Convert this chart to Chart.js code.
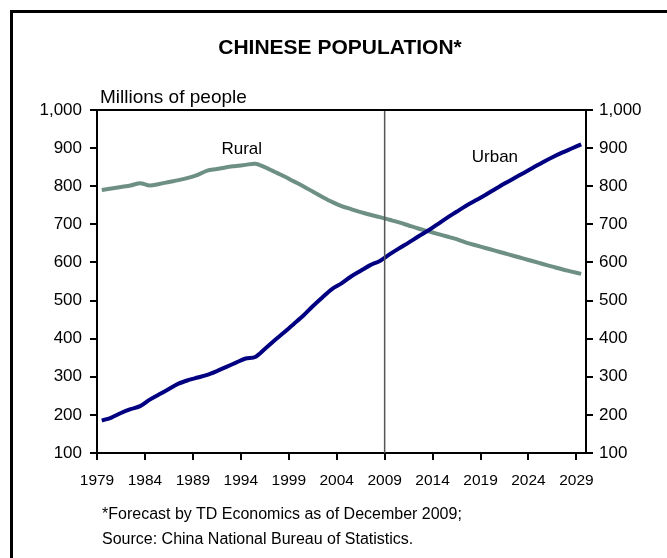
<!DOCTYPE html>
<html>
<head>
<meta charset="utf-8">
<title>Chinese Population</title>
<script src="https://cdn.jsdelivr.net/npm/chart.js@4.4.1/dist/chart.umd.min.js"></script>
<style>
  html, body { margin: 0; padding: 0; background: #fff; overflow: hidden; }
  body { width: 667px; height: 558px; position: relative; font-family: "Liberation Sans", Arial, sans-serif; color: #000; }
  #frame { position: absolute; left: 10px; top: 10px; width: 720px; height: 620px; border-left: 3px solid #000; border-top: 3px solid #000; pointer-events: none; }
  #wrap { position: absolute; left: 0; top: 0; width: 667px; height: 558px; }
  .title { position: absolute; top: 35px; left: 0; width: 680px; text-align: center; font-weight: bold; font-size: 21px; }
  .unit { position: absolute; left: 100px; top: 86px; font-size: 19px; }
  .note { position: absolute; left: 102px; top: 501px; font-size: 16px; line-height: 25px; }
</style>
</head>
<body>
<div id="wrap"><canvas id="popChart"></canvas></div>
<div class="title">CHINESE POPULATION*</div>
<div class="unit">Millions of people</div>
<div class="note">*Forecast by TD Economics as of December 2009;<br>Source: China National Bureau of Statistics.</div>
<div id="frame"></div>
<script>
// millions of people (forecast from 2009)
const years = [
  1979, 1980, 1981, 1982, 1983, 1984, 1985, 1986, 1987, 1988,
  1989, 1990, 1991, 1992, 1993, 1994, 1995, 1996, 1997, 1998,
  1999, 2000, 2001, 2002, 2003, 2004, 2005, 2006, 2007, 2008,
  2009, 2010, 2011, 2012, 2013, 2014, 2015, 2016, 2017, 2018,
  2019, 2020, 2021, 2022, 2023, 2024, 2025, 2026, 2027, 2028,
  2029
];
const urban = [
  185, 193, 205, 215, 223, 240, 254, 268, 282, 291,
  298, 305, 315, 326, 337, 348, 352, 373, 395, 416,
  438, 460, 485, 508, 530, 545, 563, 578, 593, 604,
  621, 637, 652, 668, 683, 700, 717, 733, 749, 763,
  777, 792, 807, 821, 835, 849, 863, 876, 888, 899,
  910
];
const rural = [
  790, 794, 798, 802, 808, 802, 806, 811, 816, 822,
  830, 841, 845, 850, 853, 856, 859, 850, 838, 826,
  813, 800, 786, 772, 759, 748, 740, 732, 725, 719,
  712, 705, 697, 689, 682, 675, 668, 661, 652, 645,
  638, 631, 624, 617, 610, 603, 596, 589, 582, 576,
  570
];
const xTickYears = [1979, 1984, 1989, 1994, 1999, 2004, 2009, 2014, 2019, 2024, 2029];
const yTicks = [100, 200, 300, 400, 500, 600, 700, 800, 900, 1000];
const forecastYear = 2009;

// where the series names sit (year, value)
const seriesLabels = [
  { text: "Rural", year: 1993.6, value: 897 },
  { text: "Urban", year: 2020, value: 876 }
];

const FONT = '"Liberation Sans", Arial, sans-serif';
Chart.defaults.font.family = FONT;
Chart.defaults.color = "#000";

function points(vals) {
  return years.map((yr, i) => ({ x: yr, y: vals[i] }));
}

// Excel-style category axis: ticks sit between the yearly points
function setXTicks(scale) {
  scale.ticks = xTickYears.map((yr) => ({ value: yr - 0.5 }));
}
function setYTicks(scale) {
  scale.ticks = yTicks.map((v) => ({ value: v }));
}

const overlay = {
  id: "overlay",
  afterDatasetsDraw(chart) {
    const { ctx, chartArea: a, scales } = chart;
    ctx.save();
    ctx.strokeStyle = "#000";
    ctx.lineWidth = 2;
    ctx.beginPath();
    ctx.moveTo(a.left - 1, a.top);
    ctx.lineTo(a.right + 1, a.top);
    ctx.stroke();

    ctx.font = "17px " + FONT;
    ctx.fillStyle = "#000";
    ctx.textAlign = "center";
    ctx.textBaseline = "middle";
    seriesLabels.forEach((l) => {
      ctx.fillText(l.text, scales.x.getPixelForValue(l.year), scales.y.getPixelForValue(l.value));
    });
    ctx.restore();
  }
};

const yAxisBase = {
  type: "linear",
  min: 100,
  max: 1000,
  afterBuildTicks: setYTicks,
  grid: { drawOnChartArea: false, drawTicks: true, tickLength: 7, color: "#000", lineWidth: 2 },
  border: { display: true, color: "#000", width: 2 },
  ticks: {
    font: { size: 17 },
    color: "#000",
    callback: (v) => Number(v).toLocaleString("en-US")
  }
};

new Chart(document.getElementById("popChart"), {
  type: "line",
  data: {
    datasets: [
      {
        label: "Forecast",
        data: [
          { x: forecastYear - 0.5, y: 100 },
          { x: forecastYear - 0.5, y: 1000 }
        ],
        borderColor: "#555555",
        borderWidth: 1.5,
        pointRadius: 0,
        order: 0
      },
      {
        label: "Urban",
        data: points(urban),
        borderColor: "#000080",
        borderWidth: 4,
        pointRadius: 0,
        tension: 0.3,
        borderCapStyle: "butt",
        order: 1
      },
      {
        label: "Rural",
        data: points(rural),
        borderColor: "#6d8f84",
        borderWidth: 4,
        pointRadius: 0,
        tension: 0.3,
        borderCapStyle: "butt",
        order: 2
      }
    ]
  },
  options: {
    responsive: true,
    maintainAspectRatio: false,
    animation: false,
    layout: { padding: { top: 110, left: 0, right: 0, bottom: 0 } },
    plugins: {
      legend: { display: false },
      tooltip: { enabled: false },
      title: { display: false }
    },
    scales: {
      x: {
        type: "linear",
        position: "bottom",
        min: 1978.5,
        max: 2029.5,
        afterBuildTicks: setXTicks,
        afterFit: (s) => { s.height = 105; },
        grid: { drawOnChartArea: false, drawTicks: true, tickLength: 7, color: "#000", lineWidth: 2 },
        border: { display: true, color: "#000", width: 2 },
        ticks: {
          autoSkip: false,
          maxRotation: 0,
          padding: 11,
          font: { size: 15.5 },
          color: "#000",
          callback: (v) => String(Math.round(v + 0.5))
        }
      },
      y: Object.assign({}, yAxisBase, {
        position: "left",
        afterFit: (s) => { s.width = 97; },
        ticks: Object.assign({}, yAxisBase.ticks, { padding: 8 })
      }),
      y2: Object.assign({}, yAxisBase, {
        position: "right",
        afterFit: (s) => { s.width = 81; },
        ticks: Object.assign({}, yAxisBase.ticks, { padding: 6 })
      })
    }
  },
  plugins: [overlay]
});
</script>
</body>
</html>
